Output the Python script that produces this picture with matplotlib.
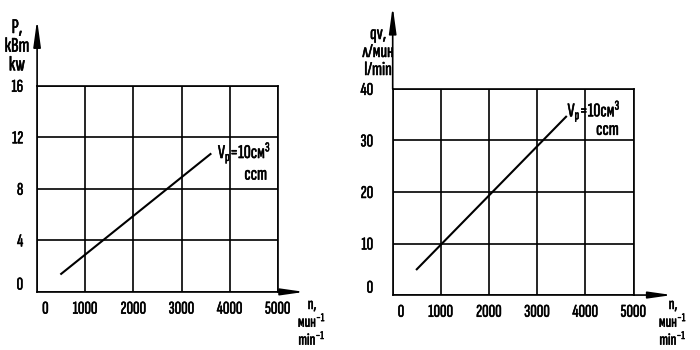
import matplotlib
matplotlib.use("Agg")
import matplotlib.pyplot as plt
import matplotlib.patheffects as pe
from matplotlib.text import Text
from matplotlib.transforms import ScaledTranslation

FONT = 'Sofia Sans Extra Condensed'
plt.rcParams['font.family'] = [FONT, 'DejaVu Sans']
plt.rcParams['mathtext.fontset'] = 'custom'
plt.rcParams['mathtext.rm'] = FONT
plt.rcParams['mathtext.it'] = FONT

# data
n_rpm = [500, 3600]
power_kw = [1.4, 10.7]
flow_lmin = [5.0, 34.6]

x_ticks = [0, 1000, 2000, 3000, 4000, 5000]
p_ticks = [0, 4, 8, 12, 16]
q_ticks = [0, 10, 20, 30, 40]

fig = plt.figure(figsize=(7, 3.5), dpi=100)
ax1 = fig.add_axes([0.053, 0.166, 0.344, 0.589])
ax2 = fig.add_axes([0.561, 0.157, 0.344, 0.589])

def setup(ax, yticks, ypad, ytop_arrow, xright_arrow):
    ax.set_xlim(0, 5000)
    ax.set_ylim(yticks[0], yticks[-1])
    ax.set_xticks(x_ticks)
    ax.set_yticks(yticks)
    ax.grid(True, color='black', lw=1.2)
    for s in ax.spines.values():
        s.set_linewidth(1.2)
    ax.tick_params(length=0, labelsize=13)
    ax.tick_params(axis='y', pad=ypad)
    ax.tick_params(axis='x', pad=7)
    fig.canvas.draw()
    # the zero labels sit off the corner
    ax.get_xticklabels()[0].set_transform(ax.get_xaxis_text1_transform(7)[0] +
                                          ScaledTranslation(6 / 72, 0, fig.dpi_scale_trans))
    ax.get_yticklabels()[0].set_transform(ax.get_yaxis_text1_transform(ypad)[0] +
                                          ScaledTranslation(0, 6 / 72, fig.dpi_scale_trans))
    ax.annotate('', xy=(0, ytop_arrow), xytext=(0, 1), xycoords='axes fraction',
                arrowprops=dict(arrowstyle='-|>,head_length=1.6,head_width=0.22',
                                color='black', lw=1.2, shrinkA=0, shrinkB=0))
    ax.annotate('', xy=(xright_arrow, 0), xytext=(1, 0), xycoords='axes fraction',
                arrowprops=dict(arrowstyle='-|>,head_length=1.4,head_width=0.2',
                                color='black', lw=1.2, shrinkA=0, shrinkB=0))

setup(ax1, p_ticks, 10, 1.32, 1.11)
setup(ax2, q_ticks, 14, 1.40, 1.16)

# axis titles
fig.text(17 / 700, 1 - 19 / 350, 'P,\nкВт\nkw', ha='center', va='top', fontsize=15,
         linespacing=1.05)
fig.text(378 / 700, 1 - 25 / 350, 'qv,\nл/мин\nl/min', ha='center', va='top', fontsize=14,
         linespacing=1.0)
fig.text(312 / 700, 1 - 298 / 350, 'n,\nмин$^{-1}$\nmin$^{-1}$', ha='center', va='top',
         fontsize=12, linespacing=1.0)
fig.text(673 / 700, 1 - 298 / 350, 'n,\nмин$^{-1}$\nmin$^{-1}$', ha='center', va='top',
         fontsize=12, linespacing=1.0)

ax1.plot(n_rpm, power_kw, color='black', lw=1.5)
ax2.plot(n_rpm, flow_lmin, color='black', lw=1.5)

ax1.text(3755, 11.8, '$V_p$=10см$^3$', fontsize=14, ha='left', va='top')
ax1.text(4540, 9.8, 'ccm', fontsize=14, ha='center', va='top')
ax2.text(3630, 38.2, '$V_p$=10см$^3$', fontsize=14, ha='left', va='top')
ax2.text(4460, 33.8, 'ccm', fontsize=14, ha='center', va='top')

# thicken the strokes of the lettering a little
for t in fig.findobj(Text):
    t.set_path_effects([pe.withStroke(linewidth=0.4, foreground='black')])

fig.savefig('out.png', dpi=100)
